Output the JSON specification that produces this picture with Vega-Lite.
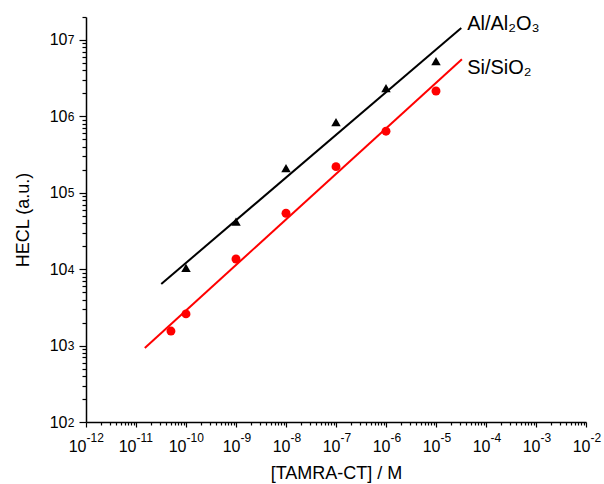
{
  "$schema": "https://vega.github.io/schema/vega-lite/v6.json",
  "autosize": {"type": "none"},
  "padding": {"left": 86, "top": 17, "right": 18, "bottom": 62},
  "width": 500,
  "height": 405,
  "background": "white",
  "config": {
    "view": {"stroke": null},
    "font": "Liberation Sans",
    "axis": {
      "domainColor": "black",
      "domainWidth": 1.5,
      "tickColor": "black",
      "grid": false,
      "labelColor": "black",
      "titleColor": "black",
      "labelFont": "Liberation Sans",
      "titleFont": "Liberation Sans",
      "labelFontSize": 16,
      "titleFontSize": 18,
      "titleFontWeight": "normal",
      "labelOverlap": false,
      "labelFlush": false
    }
  },
  "datasets": {
    "points": [
      {"c": 1e-10, "h": 10400, "s": "Al/Al2O3"},
      {"c": 1e-9, "h": 42000, "s": "Al/Al2O3"},
      {"c": 1e-8, "h": 210000, "s": "Al/Al2O3"},
      {"c": 1e-7, "h": 840000, "s": "Al/Al2O3"},
      {"c": 1e-6, "h": 2350000, "s": "Al/Al2O3"},
      {"c": 1e-5, "h": 5300000, "s": "Al/Al2O3"},
      {"c": 5e-11, "h": 1550, "s": "Si/SiO2"},
      {"c": 1e-10, "h": 2600, "s": "Si/SiO2"},
      {"c": 1e-9, "h": 13600, "s": "Si/SiO2"},
      {"c": 1e-8, "h": 54000, "s": "Si/SiO2"},
      {"c": 1e-7, "h": 220000, "s": "Si/SiO2"},
      {"c": 1e-6, "h": 640000, "s": "Si/SiO2"},
      {"c": 1e-5, "h": 2150000, "s": "Si/SiO2"}
    ],
    "fits": [
      {"c": 3.2e-11, "h": 6400, "s": "Al/Al2O3"},
      {"c": 3.2e-5, "h": 14400000, "s": "Al/Al2O3"},
      {"c": 1.5e-11, "h": 930, "s": "Si/SiO2"},
      {"c": 3.3e-5, "h": 5600000, "s": "Si/SiO2"}
    ],
    "labels": [
      {"c": 4.2e-5, "h": 16000000, "t": "Al/Al₂O₃"},
      {"c": 4.2e-5, "h": 4300000, "t": "Si/SiO₂"}
    ]
  },
  "resolve": {"axis": {"x": "independent", "y": "independent"}},
  "layer": [
    {
      "data": {"name": "fits"},
      "mark": {"type": "line", "strokeWidth": 2},
      "encoding": {
        "x": {
          "field": "c", "type": "quantitative",
          "scale": {"type": "log", "domain": [1e-12, 1e-2], "nice": false},
          "axis": {
            "orient": "bottom",
            "title": "[TAMRA-CT] / M",
            "titlePadding": 10,
            "values": [1e-12,2e-12,3e-12,4e-12,5e-12,6e-12,7e-12,8e-12,9e-12,1e-11,2e-11,3e-11,4e-11,5e-11,6e-11,7e-11,8e-11,9e-11,1e-10,2e-10,3e-10,4e-10,5e-10,6e-10,7e-10,8e-10,9e-10,1e-9,2e-9,3e-9,4e-9,5e-9,6e-9,7e-9,8e-9,9e-9,1e-8,2e-8,3e-8,4e-8,5e-8,6e-8,7e-8,8e-8,9e-8,1e-7,2e-7,3e-7,4e-7,5e-7,6e-7,7e-7,8e-7,9e-7,1e-6,2e-6,3e-6,4e-6,5e-6,6e-6,7e-6,8e-6,9e-6,1e-5,2e-5,3e-5,4e-5,5e-5,6e-5,7e-5,8e-5,9e-5,1e-4,2e-4,3e-4,4e-4,5e-4,6e-4,7e-4,8e-4,9e-4,1e-3,2e-3,3e-3,4e-3,5e-3,6e-3,7e-3,8e-3,9e-3,1e-2],
            "tickSize": {"condition": {"test": "abs(log(datum.value)/LN10 - round(log(datum.value)/LN10)) < 0.001", "value": 5}, "value": 3},
            "tickWidth": 1.2,
            "labelPadding": 11,
            "labelAlign": "right",
            "labelOffset": {"condition": {"test": "datum.value < 5e-10", "value": 0}, "value": 4},
            "labelExpr": "abs(log(datum.value)/LN10 - round(log(datum.value)/LN10)) < 0.001 ? '10' : ''"
          }
        },
        "y": {
          "field": "h", "type": "quantitative",
          "scale": {"type": "log", "domain": [100, 20000000], "nice": false},
          "axis": {
            "orient": "left",
            "title": "HECL (a.u.)",
            "titlePadding": 17,
            "values": [100,200,300,400,500,600,700,800,900,1000,2000,3000,4000,5000,6000,7000,8000,9000,10000,20000,30000,40000,50000,60000,70000,80000,90000,100000,200000,300000,400000,500000,600000,700000,800000,900000,1000000,2000000,3000000,4000000,5000000,6000000,7000000,8000000,9000000,10000000,20000000],
            "tickSize": {"condition": {"test": "abs(log(datum.value)/LN10 - round(log(datum.value)/LN10)) < 0.001", "value": 7}, "value": 4},
            "tickWidth": 1.2,
            "labelPadding": 12,
            "labelExpr": "abs(log(datum.value)/LN10 - round(log(datum.value)/LN10)) < 0.001 ? '10' : ''"
          }
        },
        "color": {
          "field": "s", "type": "nominal",
          "scale": {"domain": ["Al/Al2O3", "Si/SiO2"], "range": ["#000000", "#ff0000"]},
          "legend": null
        },
        "detail": {"field": "s"}
      }
    },
    {
      "data": {"name": "points"},
      "mark": {"type": "point", "filled": true, "opacity": 1},
      "encoding": {
        "x": {
          "field": "c", "type": "quantitative",
          "axis": {
            "orient": "bottom",
            "title": null,
            "domain": false,
            "tickOpacity": 0,
            "values": [1e-12,1e-11,1e-10,1e-9,1e-8,1e-7,1e-6,1e-5,1e-4,1e-3,1e-2],
            "labelFontSize": 12,
            "labelAlign": "left",
            "labelPadding": 5,
            "labelOffset": {"condition": {"test": "datum.value < 5e-10", "value": 0}, "value": 4},
            "labelExpr": "'-' + format(abs(round(log(datum.value)/LN10)), 'd')"
          }
        },
        "y": {
          "field": "h", "type": "quantitative",
          "axis": {
            "orient": "left",
            "title": null,
            "domain": false,
            "tickOpacity": 0,
            "values": [100,1000,10000,100000,1000000,10000000],
            "labelFontSize": 12,
            "labelPadding": 7,
            "labelDy": -6,
            "labelExpr": "format(round(log(datum.value)/LN10), 'd')"
          }
        },
        "color": {"field": "s", "type": "nominal", "legend": null},
        "shape": {
          "field": "s", "type": "nominal",
          "scale": {"domain": ["Al/Al2O3", "Si/SiO2"], "range": ["triangle-up", "circle"]},
          "legend": null
        },
        "size": {
          "field": "s", "type": "nominal",
          "scale": {"domain": ["Al/Al2O3", "Si/SiO2"], "range": [90, 80]},
          "legend": null
        }
      }
    },
    {
      "data": {"name": "labels"},
      "mark": {"type": "text", "align": "left", "baseline": "middle", "fontSize": 20, "color": "black", "font": "Liberation Sans"},
      "encoding": {
        "x": {"field": "c", "type": "quantitative", "axis": null},
        "y": {"field": "h", "type": "quantitative", "axis": null},
        "text": {"field": "t"}
      }
    }
  ]
}
